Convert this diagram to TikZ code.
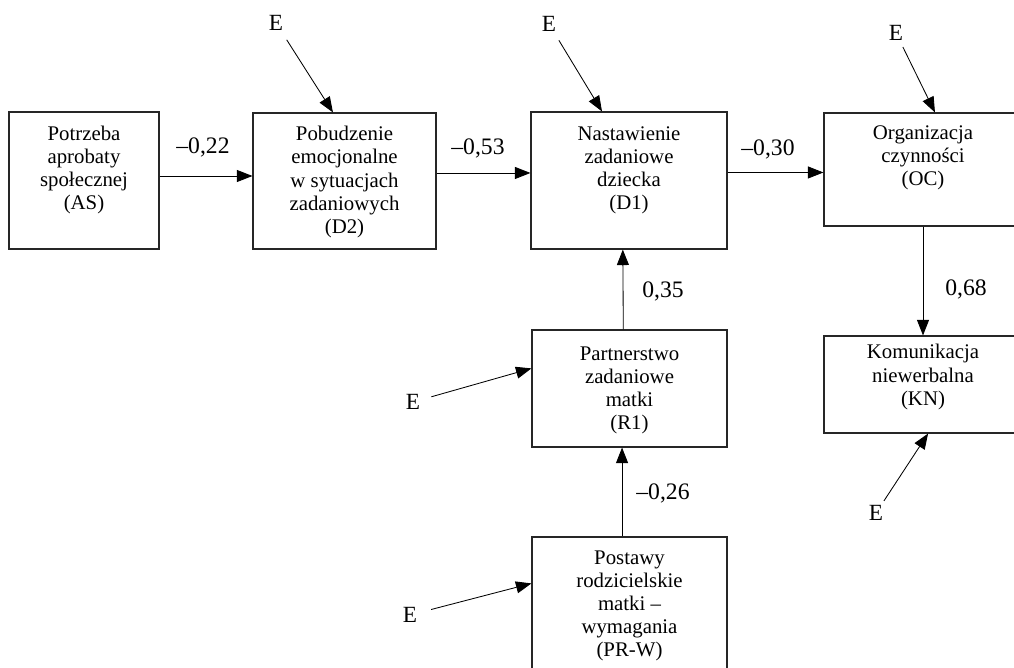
\documentclass[tikz,border=0pt]{standalone}
\usepackage{fontspec}
\setmainfont{Liberation Serif}
\usetikzlibrary{arrows.meta,fit}
\begin{document}
\begin{tikzpicture}[x=0.025cm,y=-0.025cm]
	\tikzset{box/.style={draw=black!85, line width=0.8pt, inner sep=0pt},
		txt/.style={align=center, inner sep=0pt, font=\fontsize{14.8}{16.4}\selectfont},
		coef/.style={inner sep=1pt, font=\fontsize{16.8}{18}\selectfont},
		err/.style={inner sep=3pt, font=\fontsize{16.5}{18}\selectfont},
		arr/.style={-{Triangle[length=11pt,width=8.5pt]}, line width=0.6pt}};
	\useasboundingbox (0,0) rectangle (1014,668);
	\clip (0,0) rectangle (1014,668);

	% boxes
	\node[box, fit={(9,112) (159,249)}] (AS) {};
	\node[box, fit={(253,113) (436,249)}] (D2) {};
	\node[box, fit={(531,112) (727,249)}] (D1) {};
	\node[box, fit={(824,113) (1022,226)}] (OC) {};
	\node[box, fit={(824,336) (1022,433)}] (KN) {};
	\node[box, fit={(532,330) (727,447)}] (R1) {};
	\node[box, fit={(532,537) (727,690)}] (PRW) {};

	% texts
	\node[txt] (ASt) at (84,170) {Potrzeba\\aprobaty\\społecznej\\(AS)};
	\node[txt] (D2t) at (344.5,182) {Pobudzenie\\emocjonalne\\w sytuacjach\\zadaniowych\\(D2)};
	\node[txt] (D1t) at (629,170) {Nastawienie\\zadaniowe\\dziecka\\(D1)};
	\node[txt] (OCt) at (923,158) {Organizacja\\czynności\\(OC)};
	\node[txt] (KNt) at (923,377) {Komunikacja\\niewerbalna\\(KN)};
	\node[txt] (R1t) at (629.5,390) {Partnerstwo\\zadaniowe\\matki\\(R1)};
	\node[txt] (PRWt) at (629.5,606) {Postawy\\rodzicielskie\\matki –\\wymagania\\(PR-W)};

	% paths
	\draw[arr] ([yshift=3.2pt]AS.east) -- ([yshift=3.2pt]AS.east -| D2.west);
	\draw[arr] ([yshift=5.7pt]D2.east) -- ([yshift=5.7pt]D2.east -| D1.west);
	\draw[arr] ([yshift=5.7pt]D1.east) -- ([yshift=5.7pt]D1.east -| OC.west);
	\draw[arr] (OC.south) -- (KN.north);
	\draw[arr] ([xshift=-4.4pt]R1.north) -- ([xshift=-4.4pt]D1.south);
	\draw[arr] ([xshift=-5.3pt]PRW.north) -- ([xshift=-5.3pt]R1.south);

	\node[coef] (c1) at (203,147) {–0,22};
	\node[coef] (c2) at (478,148) {–0,53};
	\node[coef] (c3) at (768,149) {–0,30};
	\node[coef] (c4) at (966,289) {0,68};
	\node[coef] (c5) at (663,291) {0,35};
	\node[coef] (c6) at (663,493) {–0,26};

	% errors
	\node[err] (E1) at (276,23) {E};
	\node[err] (E2) at (549,24) {E};
	\node[err] (E3) at (896,33) {E};
	\node[err] (E4) at (413,402) {E};
	\node[err] (E5) at (410,615) {E};
	\node[err] (E6) at (876,513) {E};

	\draw[arr, shorten <=4pt] (E1) -- ([xshift=-8.2pt]D2.north);
	\draw[arr, shorten <=3.5pt] (E2) -- ([xshift=-19.2pt]D1.north);
	\draw[arr, shorten <=1.5pt] (E3) -- ([xshift=8.5pt]OC.north);
	\draw[arr, shorten <=5pt] (E4) -- ([yshift=-27.7pt]R1.north west);
	\draw[arr, shorten <=7pt] (E5) -- ([yshift=-33.4pt]PRW.north west);
	\draw[arr] (E6) -- ([xshift=3.6pt]KN.south);
\end{tikzpicture}
\end{document}
